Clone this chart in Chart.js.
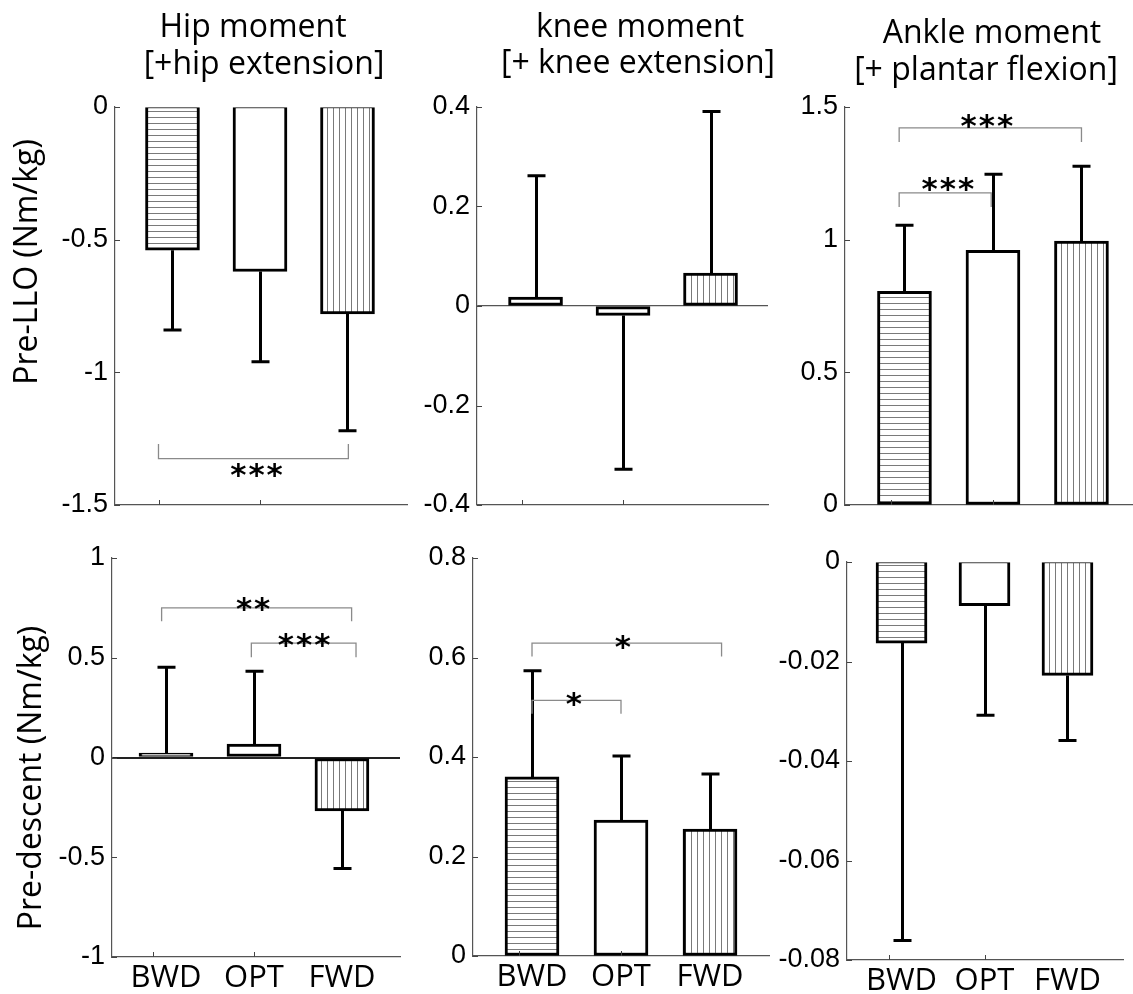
<!DOCTYPE html>
<html><head><meta charset="utf-8">
<script src="https://cdn.jsdelivr.net/npm/chart.js@4.4.1/dist/chart.umd.min.js"></script>
<style>
html,body{margin:0;padding:0;background:#fff;overflow:hidden;width:1133px;height:994px;}
canvas.panel{position:absolute;}
</style></head><body>
<canvas id="p1" class="panel"></canvas>
<canvas id="p2" class="panel"></canvas>
<canvas id="p3" class="panel"></canvas>
<canvas id="p4" class="panel"></canvas>
<canvas id="p5" class="panel"></canvas>
<canvas id="p6" class="panel"></canvas>
<script>
// ---------------- DATA ----------------
const categories = ['BWD', 'OPT', 'FWD'];

// Pre-LLO (top row)
const hipLLO = [-0.54, -0.62, -0.78];
const hipLLO_sd = [0.30, 0.34, 0.44];
const kneeLLO = [0.018, -0.019, 0.066];
const kneeLLO_sd = [0.244, 0.309, 0.325];
const ankleLLO = [0.805, 0.960, 0.995];
const ankleLLO_sd = [0.249, 0.287, 0.282];

// Pre-descent (bottom row)
const hipDesc = [0.022, 0.067, -0.268];
const hipDesc_sd = [0.43, 0.365, 0.288];
const kneeDesc = [0.360, 0.273, 0.255];
const kneeDesc_sd = [0.2135, 0.129, 0.111];
const ankleDesc = [-0.0163, -0.0088, -0.0228];
const ankleDesc_sd = [0.0598, 0.0220, 0.0131];

// y tick values
const hipLLO_ticks = [-1.5, -1, -0.5, 0];
const kneeLLO_ticks = [-0.4, -0.2, 0, 0.2, 0.4];
const ankleLLO_ticks = [0, 0.5, 1, 1.5];
const hipDesc_ticks = [-1, -0.5, 0, 0.5, 1];
const kneeDesc_ticks = [0, 0.2, 0.4, 0.6, 0.8];
const ankleDesc_ticks = [-0.08, -0.06, -0.04, -0.02, 0];
const xTickMarks = [0.85, 2.0];

const titles = [
  ['Hip moment', '[+hip extension]'],
  ['knee moment', '[+ knee extension]'],
  ['Ankle moment', '[+ plantar flexion]']
];
const rowLabels = ['Pre-LLO (Nm/kg)', 'Pre-descent (Nm/kg)'];

// significance brackets: [xFrom, xTo, yLine, yDropEnd, label, labelX, labelY]
const hipLLO_sig = [[0.84, 3.01, -1.325, -1.27, '***', 1.96, -1.357]];
const hipDesc_sig = [[0.95, 3.11, 0.750, 0.683, '**', 1.99, 0.784],
                     [1.97, 3.16, 0.573, 0.503, '***', 2.57, 0.603]];
const kneeDesc_sig = [[1.0, 3.13, 0.629, 0.602, '*', 2.02, 0.638],
                      [1.0, 2.0, 0.514, 0.487, '*', 1.47, 0.5226]];
const ankleLLO_sig = [[0.94, 3.0, 1.4216, 1.368, '***', 1.93, 1.459],
                      [0.94, 1.98, 1.176, 1.123, '***', 1.49, 1.221]];

// ---------------- STYLE HELPERS ----------------
function linePattern(dir) {
  const c = document.createElement('canvas');
  c.width = 6; c.height = 6;
  const g = c.getContext('2d');
  g.fillStyle = '#ffffff'; g.fillRect(0, 0, 6, 6);
  g.fillStyle = '#7a7a7a';
  if (dir === 'h') g.fillRect(0, 3, 6, 1); else g.fillRect(3, 0, 1, 6);
  return g.createPattern(c, 'repeat');
}
const patH = linePattern('h');
const patV = linePattern('v');

const deco = {};

const decoPlugin = {
  id: 'deco',
  afterDatasetsDraw(chart) {
    const d = deco[chart.canvas.id];
    const ctx = chart.ctx, ys = chart.scales.y;
    const meta = chart.getDatasetMeta(0);
    const ds = chart.data.datasets[0].data;
    ctx.save();
    ctx.strokeStyle = '#000'; ctx.lineWidth = 3; ctx.lineCap = 'butt';
    meta.data.forEach((el, i) => {
      const v = ds[i].y;
      const e = v + (v >= 0 ? 1 : -1) * d.sd[i];
      const x = Math.round(el.x) + 0.5, y0 = el.y, y1 = ys.getPixelForValue(e);
      ctx.beginPath();
      ctx.moveTo(x, y0); ctx.lineTo(x, y1);
      ctx.moveTo(x - 9, y1); ctx.lineTo(x + 9, y1);
      ctx.stroke();
    });
    ctx.restore();
  },
  afterDraw(chart) {
    const d = deco[chart.canvas.id];
    const ctx = chart.ctx, xs = chart.scales.x, ys = chart.scales.y, a = chart.chartArea;
    ctx.save();
    // inward tick marks
    ctx.strokeStyle = '#444'; ctx.lineWidth = 1;
    ys.ticks.forEach(t => {
      const y = Math.round(ys.getPixelForValue(t.value)) + 0.5;
      ctx.beginPath(); ctx.moveTo(a.left, y); ctx.lineTo(a.left + 5, y); ctx.stroke();
    });
    xTickMarks.forEach(v => {
      const x = Math.round(xs.getPixelForValue(v)) + 0.5;
      ctx.beginPath(); ctx.moveTo(x, a.bottom); ctx.lineTo(x, a.bottom - 5); ctx.stroke();
    });
    // significance brackets
    (d.sig || []).forEach(s => {
      const [xa, xb, yl, ye, label, lx, ly] = s;
      const px1 = xs.getPixelForValue(xa), px2 = xs.getPixelForValue(xb);
      const py = ys.getPixelForValue(yl), pe = ys.getPixelForValue(ye);
      ctx.strokeStyle = '#8a8a8a'; ctx.lineWidth = 1.3;
      ctx.beginPath();
      ctx.moveTo(px1, pe); ctx.lineTo(px1, py); ctx.lineTo(px2, py); ctx.lineTo(px2, pe);
      ctx.stroke();
      ctx.fillStyle = '#000';
      ctx.font = 'bold 31px "DejaVu Sans"';
      ctx.textAlign = 'center'; ctx.textBaseline = 'alphabetic';
      ctx.letterSpacing = '2px';
      ctx.fillText(label, xs.getPixelForValue(lx) + 1, ys.getPixelForValue(ly) + 0.58 * 31);
      ctx.letterSpacing = '0px';
    });
    // panel titles
    ctx.fillStyle = '#000';
    ctx.textBaseline = 'alphabetic';
    if (d.title) {
      ctx.font = '32px "Open Sans"';
      ctx.textAlign = 'center';
      d.title.forEach((line, i) => {
        ctx.fillText(line, d.titlePos[i][0] - d.L, d.titlePos[i][1] - d.T);
      });
    }
    if (d.yTitle) {
      ctx.font = '32px "Open Sans"';
      ctx.textAlign = 'center';
      ctx.translate(d.yTitlePos[0] - d.L, d.yTitlePos[1] - d.T);
      ctx.rotate(-Math.PI / 2);
      ctx.fillText(d.yTitle, 0, 0);
    }
    ctx.restore();
  }
};

function makePanel(p) {
  const cv = document.getElementById(p.id);
  cv.width = p.W; cv.height = p.H;
  cv.style.left = p.L + 'px'; cv.style.top = p.T + 'px';
  cv.style.width = p.W + 'px'; cv.style.height = p.H + 'px';
  const yw = p.x0 - p.L, padT = p.y0 - p.T, padR = p.L + p.W - p.x1;
  const padB = p.T + p.H - p.y1 - p.xh;
  deco[p.id] = { sd: p.sd, sig: p.sig, title: p.title, titlePos: p.titlePos,
                 yTitle: p.yTitle, yTitlePos: p.yTitlePos, L: p.L, T: p.T };
  new Chart(cv, {
    type: 'bar',
    data: {
      datasets: [{
        data: p.values.map((v, i) => ({ x: i + 1, y: v })),
        backgroundColor: [patH, '#ffffff', patV],
        borderColor: '#000', borderWidth: p.bw, borderSkipped: false,
        barThickness: p.bt
      }]
    },
    options: {
      responsive: false, animation: false, events: [],
      layout: { padding: { left: 0, top: padT, right: padR, bottom: padB } },
      plugins: { legend: { display: false }, tooltip: { enabled: false }, title: { display: false } },
      scales: {
        x: {
          type: 'linear', min: p.xmin, max: p.xmax, offset: false,
          grid: { display: false, drawTicks: false },
          border: { display: true, color: '#555', width: 1.2 },
          afterBuildTicks: s => { s.ticks = categories.map((c, i) => ({ value: i + 1 })); },
          ticks: {
            display: p.showX, autoSkip: false, maxRotation: 0, color: '#000', padding: 3,
            font: { family: 'Open Sans', size: 31 },
            callback: v => categories[Math.round(v) - 1]
          },
          afterFit: s => { s.height = p.xh; }
        },
        y: {
          min: p.ymin, max: p.ymax,
          grid: {
            display: true, drawTicks: false,
            color: c => (p.zero && c.tick && c.tick.value === 0) ? p.zero.color : 'rgba(0,0,0,0)',
            lineWidth: p.zero ? p.zero.width : 1
          },
          border: { display: true, color: '#555', width: 1.2 },
          afterBuildTicks: s => { s.ticks = p.ticks.map(v => ({ value: v })); },
          ticks: {
            color: '#000', padding: 7,
            font: { family: 'Liberation Sans', size: 27 },
            callback: v => String(parseFloat(Number(v).toFixed(3)))
          },
          afterFit: s => { s.width = yw; }
        }
      }
    },
    plugins: [decoPlugin]
  });
}

Chart.defaults.font.family = 'Open Sans';
const hangBorder = { top: 1, left: 3, right: 3, bottom: 3 };

makePanel({ id: 'p1', L: 0, T: 0, W: 420, H: 540, x0: 115, y0: 107, x1: 407, y1: 505, xh: 5,
  xmin: 0.343, xmax: 3.68, ymin: -1.5, ymax: 0, ticks: hipLLO_ticks, values: hipLLO, sd: hipLLO_sd,
  bt: 54, showX: false, sig: hipLLO_sig, zero: null, bw: hangBorder,
  title: titles[0], titlePos: [[253, 37], [264, 74]], yTitle: rowLabels[0], yTitlePos: [37, 262] });
makePanel({ id: 'p2', L: 400, T: 0, W: 390, H: 540, x0: 477, y0: 107, x1: 768, y1: 505, xh: 5,
  xmin: 0.331, xmax: 3.657, ymin: -0.4, ymax: 0.4, ticks: kneeLLO_ticks, values: kneeLLO, sd: kneeLLO_sd,
  bt: 54, showX: false, sig: [], zero: { color: '#555', width: 1.2 }, bw: 3,
  title: titles[1], titlePos: [[640, 37], [638, 73]] });
makePanel({ id: 'p3', L: 770, T: 0, W: 363, H: 540, x0: 845, y0: 107, x1: 1132, y1: 505, xh: 5,
  xmin: 0.328, xmax: 3.571, ymin: 0, ymax: 1.5, ticks: ankleLLO_ticks, values: ankleLLO, sd: ankleLLO_sd,
  bt: 54, showX: false, sig: ankleLLO_sig, zero: null, bw: 3,
  title: titles[2], titlePos: [[992, 43], [986, 80]] });
makePanel({ id: 'p4', L: 0, T: 520, W: 420, H: 474, x0: 112, y0: 558, x1: 400, y1: 957, xh: 37,
  xmin: 0.386, xmax: 3.66, ymin: -1, ymax: 1, ticks: hipDesc_ticks, values: hipDesc, sd: hipDesc_sd,
  bt: 54, showX: true, sig: hipDesc_sig, zero: { color: '#222', width: 2 }, bw: 3,
  yTitle: rowLabels[1], yTitlePos: [41, 778] });
makePanel({ id: 'p5', L: 400, T: 520, W: 390, H: 474, x0: 473, y0: 558, x1: 769, y1: 956, xh: 38,
  xmin: 0.337, xmax: 3.663, ymin: 0, ymax: 0.8, ticks: kneeDesc_ticks, values: kneeDesc, sd: kneeDesc_sd,
  bt: 54, showX: true, sig: kneeDesc_sig, zero: null, bw: 3 });
makePanel({ id: 'p6', L: 770, T: 520, W: 363, H: 474, x0: 847, y0: 562, x1: 1123, y1: 960, xh: 34,
  xmin: 0.343, xmax: 3.669, ymin: -0.08, ymax: 0, ticks: ankleDesc_ticks, values: ankleDesc, sd: ankleDesc_sd,
  bt: 51, showX: true, sig: [], zero: null, bw: hangBorder });
</script>
</body></html>
